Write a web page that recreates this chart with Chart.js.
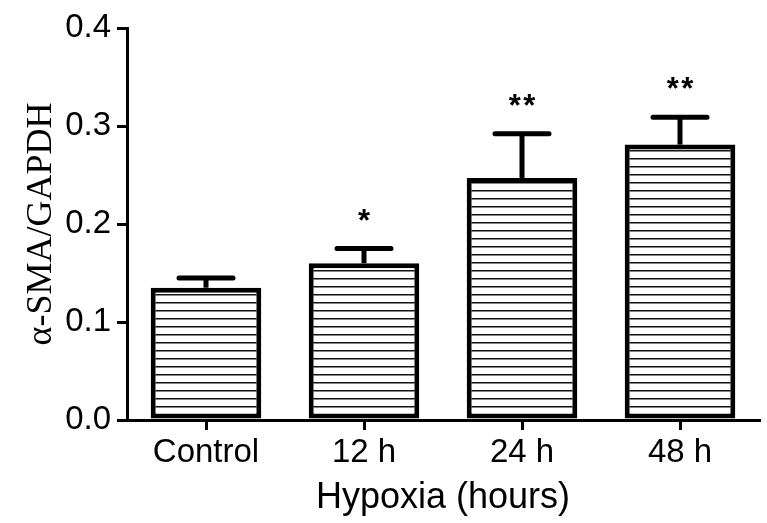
<!DOCTYPE html>
<html>
<head>
<meta charset="utf-8">
<script src="https://cdn.jsdelivr.net/npm/chart.js@4"></script>
<style>
  body { margin: 0; background: #fff; }
</style>
</head>
<body>
<canvas id="chart1" width="767" height="523"></canvas>
<script>
// values
var groups = ["Control", "12 h", "24 h", "48 h"];
var means = [0.135, 0.160, 0.247, 0.281];
var errs = [0.010, 0.015, 0.045, 0.028];
var stars = ["", "*", "**", "**"];
var yTicks = [0, 0.1, 0.2, 0.3, 0.4];

function makeHatch() {
  var c = document.createElement("canvas");
  c.width = 8;
  c.height = 8;
  var g = c.getContext("2d");
  g.fillStyle = "#fff";
  g.fillRect(0, 0, 8, 8);
  g.fillStyle = "#111";
  g.fillRect(0, 6, 8, 1.5);
  return g.createPattern(c, "repeat");
}

// error bars + significance stars
var errorBars = {
  id: "errorBars",
  afterDatasetsDraw: function (chart) {
    var ctx = chart.ctx;
    var y = chart.scales.y;
    var meta = chart.getDatasetMeta(0);
    ctx.save();
    ctx.strokeStyle = "#000";
    ctx.fillStyle = "#000";
    for (let i = 0; i < meta.data.length; i++) {
      var bar = meta.data[i];
      var yTop = y.getPixelForValue(means[i] + errs[i]);
      var yBar = y.getPixelForValue(means[i]);
      ctx.lineWidth = 5;
      ctx.lineCap = "butt";
      ctx.beginPath();
      ctx.moveTo(bar.x, yBar);
      ctx.lineTo(bar.x, yTop);
      ctx.stroke();
      ctx.lineCap = "round";
      ctx.beginPath();
      ctx.moveTo(bar.x - 27, yTop);
      ctx.lineTo(bar.x + 27, yTop);
      ctx.stroke();
      if (stars[i] != "") {
        ctx.font = "bold 31px 'Liberation Sans', Arial, sans-serif";
        ctx.textAlign = "center";
        ctx.textBaseline = "alphabetic";
        ctx.fillText(stars[i].split("").join("\u200a"), bar.x, yTop - 18);
      }
    }
    ctx.restore();
  }
};

var c1 = document.getElementById("chart1").getContext("2d");
var chart = new Chart(c1, {
  type: "bar",
  data: {
    labels: groups,
    datasets: [{
      data: means,
      backgroundColor: makeHatch(),
      borderColor: "#000",
      borderWidth: 5,
      borderSkipped: false,
      barPercentage: 0.70,
      categoryPercentage: 1.0
    }]
  },
  options: {
    responsive: false,
    animation: false,
    layout: { padding: { top: 28, right: 8, left: 0, bottom: 0 } },
    plugins: {
      legend: { display: false },
      tooltip: { enabled: false }
    },
    scales: {
      x: {
        grid: {
          offset: false,
          drawOnChartArea: false,
          drawTicks: true,
          tickLength: 10,
          color: "#000",
          lineWidth: 3
        },
        border: { display: true, color: "#000", width: 3 },
        ticks: {
          color: "#000",
          padding: 3,
          maxRotation: 0,
          font: { family: "'Liberation Sans', Arial, sans-serif", size: 33 }
        },
        title: {
          display: true,
          text: "Hypoxia (hours)",
          color: "#000",
          padding: { top: 0, bottom: 3 },
          font: { family: "'Liberation Sans', Arial, sans-serif", size: 36 }
        },
        afterFit: function (scale) { scale.height = 103; }
      },
      y: {
        min: 0,
        max: 0.4,
        afterBuildTicks: function (scale) {
          scale.ticks = yTicks.map(v => ({ value: v }));
        },
        grid: {
          drawOnChartArea: false,
          drawTicks: true,
          tickLength: 10,
          color: "#000",
          lineWidth: 3
        },
        border: { display: true, color: "#000", width: 3 },
        ticks: {
          color: "#000",
          padding: 6,
          callback: function (v) { return Number(v).toFixed(1); },
          font: { family: "'Liberation Sans', Arial, sans-serif", size: 33 }
        },
        title: {
          display: true,
          text: "\u03b1-SMA/GAPDH",
          color: "#000",
          padding: { top: 20, bottom: 0 },
          font: { family: "'Liberation Serif', 'Times New Roman', serif", size: 36 }
        },
        afterFit: function (scale) { scale.width = 127; }
      }
    }
  },
  plugins: [errorBars]
});
</script>
</body>
</html>
